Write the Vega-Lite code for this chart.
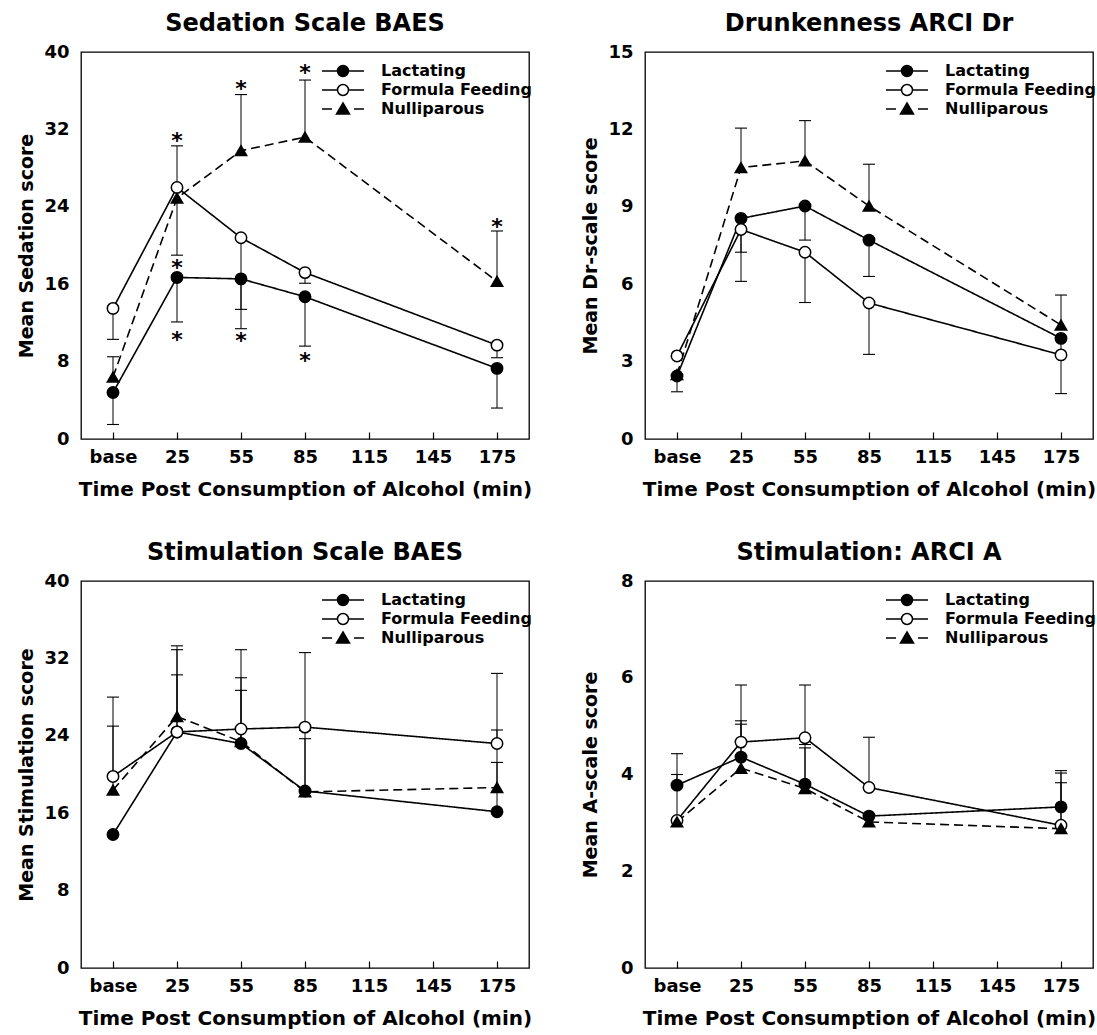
{
  "$schema": "https://vega.github.io/schema/vega-lite/v6.json",
  "padding": {"left": 16, "top": 11, "right": 5, "bottom": 5},
  "background": "white",
  "config": {
    "font": "DejaVu Sans",
    "view": {"stroke": "black", "strokeWidth": 1.3},
    "axis": {"labelFont": "DejaVu Sans", "labelFontWeight": "bold", "labelFontSize": 18, "labelColor": "black", "titleFont": "DejaVu Sans", "titleFontWeight": "bold", "titleColor": "black", "domain": false, "grid": false, "tickColor": "black"},
    "axisX": {"tickSize": -7, "tickWidth": 1.2, "labelPadding": 16, "titleFontSize": 20, "titlePadding": 13, "labelFlush": false},
    "axisY": {"ticks": false, "tickSize": 0, "labelPadding": 12, "titleFontSize": 19, "titlePadding": 8, "minExtent": 37, "maxExtent": 37},
    "title": {"font": "DejaVu Sans", "fontSize": 24, "fontWeight": "bold", "color": "black", "offset": 7, "anchor": "middle", "frame": "group"},
    "legend": {"orient": "none", "legendX": 254, "legendY": 11, "padding": 0, "symbolSize": 100, "labelOffset": 30, "labelFont": "DejaVu Sans", "labelFontWeight": "bold", "labelFontSize": 16, "labelColor": "black", "labelLimit": 300, "rowPadding": 1, "symbolStrokeWidth": 1.5, "symbolOpacity": 1}
  },
  "datasets": {
    "pts": [
      {"p": "sed", "g": "Lactating", "t": -5, "y": 4.8, "e": 1.5},
      {"p": "sed", "g": "Lactating", "t": 25, "y": 16.7, "e": 12.1},
      {"p": "sed", "g": "Lactating", "t": 55, "y": 16.55, "e": 11.4},
      {"p": "sed", "g": "Lactating", "t": 85, "y": 14.7, "e": 9.6},
      {"p": "sed", "g": "Lactating", "t": 175, "y": 7.3, "e": 3.2},
      {"p": "sed", "g": "Formula Feeding", "t": -5, "y": 13.5, "e": 10.3},
      {"p": "sed", "g": "Formula Feeding", "t": 25, "y": 26.0, "e": 19.0},
      {"p": "sed", "g": "Formula Feeding", "t": 55, "y": 20.8, "e": 13.4},
      {"p": "sed", "g": "Formula Feeding", "t": 85, "y": 17.2, "e": 16.1},
      {"p": "sed", "g": "Formula Feeding", "t": 175, "y": 9.7, "e": 8.4},
      {"p": "sed", "g": "Nulliparous", "t": -5, "y": 6.4, "e": 8.5},
      {"p": "sed", "g": "Nulliparous", "t": 25, "y": 24.9, "e": 30.3},
      {"p": "sed", "g": "Nulliparous", "t": 55, "y": 29.8, "e": 35.6},
      {"p": "sed", "g": "Nulliparous", "t": 85, "y": 31.2, "e": 37.1},
      {"p": "sed", "g": "Nulliparous", "t": 175, "y": 16.3, "e": 21.5},

      {"p": "dr", "g": "Lactating", "t": -5, "y": 2.44, "e": 1.83},
      {"p": "dr", "g": "Lactating", "t": 25, "y": 8.55, "e": 7.24},
      {"p": "dr", "g": "Lactating", "t": 55, "y": 9.03, "e": 7.71},
      {"p": "dr", "g": "Lactating", "t": 85, "y": 7.71, "e": 6.3},
      {"p": "dr", "g": "Lactating", "t": 175, "y": 3.9, "e": 3.3},
      {"p": "dr", "g": "Formula Feeding", "t": -5, "y": 3.22, "e": null},
      {"p": "dr", "g": "Formula Feeding", "t": 25, "y": 8.12, "e": 6.11},
      {"p": "dr", "g": "Formula Feeding", "t": 55, "y": 7.24, "e": 5.29},
      {"p": "dr", "g": "Formula Feeding", "t": 85, "y": 5.27, "e": 3.28},
      {"p": "dr", "g": "Formula Feeding", "t": 175, "y": 3.26, "e": 1.76},
      {"p": "dr", "g": "Nulliparous", "t": -5, "y": 2.5, "e": null},
      {"p": "dr", "g": "Nulliparous", "t": 25, "y": 10.52, "e": 12.05},
      {"p": "dr", "g": "Nulliparous", "t": 55, "y": 10.78, "e": 12.34},
      {"p": "dr", "g": "Nulliparous", "t": 85, "y": 9.03, "e": 10.65},
      {"p": "dr", "g": "Nulliparous", "t": 175, "y": 4.42, "e": 5.58},

      {"p": "stim", "g": "Lactating", "t": -5, "y": 13.8, "e": null},
      {"p": "stim", "g": "Lactating", "t": 25, "y": 24.4, "e": 30.3},
      {"p": "stim", "g": "Lactating", "t": 55, "y": 23.2, "e": 30.0},
      {"p": "stim", "g": "Lactating", "t": 85, "y": 18.3, "e": 24.55},
      {"p": "stim", "g": "Lactating", "t": 175, "y": 16.15, "e": 24.6},
      {"p": "stim", "g": "Formula Feeding", "t": -5, "y": 19.8, "e": 28.0},
      {"p": "stim", "g": "Formula Feeding", "t": 25, "y": 24.4, "e": 33.3},
      {"p": "stim", "g": "Formula Feeding", "t": 55, "y": 24.7, "e": 32.9},
      {"p": "stim", "g": "Formula Feeding", "t": 85, "y": 24.9, "e": 32.6},
      {"p": "stim", "g": "Formula Feeding", "t": 175, "y": 23.2, "e": 30.45},
      {"p": "stim", "g": "Nulliparous", "t": -5, "y": 18.4, "e": 25.0},
      {"p": "stim", "g": "Nulliparous", "t": 25, "y": 26.0, "e": 32.9},
      {"p": "stim", "g": "Nulliparous", "t": 55, "y": 23.4, "e": 28.7},
      {"p": "stim", "g": "Nulliparous", "t": 85, "y": 18.2, "e": 23.7},
      {"p": "stim", "g": "Nulliparous", "t": 175, "y": 18.65, "e": 21.25},

      {"p": "a", "g": "Lactating", "t": -5, "y": 3.78, "e": 4.43},
      {"p": "a", "g": "Lactating", "t": 25, "y": 4.36, "e": 5.11},
      {"p": "a", "g": "Lactating", "t": 55, "y": 3.8, "e": 4.62},
      {"p": "a", "g": "Lactating", "t": 85, "y": 3.14, "e": null},
      {"p": "a", "g": "Lactating", "t": 175, "y": 3.33, "e": 4.08},
      {"p": "a", "g": "Formula Feeding", "t": -5, "y": 3.05, "e": 4.0},
      {"p": "a", "g": "Formula Feeding", "t": 25, "y": 4.67, "e": 5.85},
      {"p": "a", "g": "Formula Feeding", "t": 55, "y": 4.76, "e": 5.85},
      {"p": "a", "g": "Formula Feeding", "t": 85, "y": 3.73, "e": 4.77},
      {"p": "a", "g": "Formula Feeding", "t": 175, "y": 2.95, "e": 4.03},
      {"p": "a", "g": "Nulliparous", "t": -5, "y": 3.02, "e": null},
      {"p": "a", "g": "Nulliparous", "t": 25, "y": 4.13, "e": 5.04},
      {"p": "a", "g": "Nulliparous", "t": 55, "y": 3.71, "e": 4.55},
      {"p": "a", "g": "Nulliparous", "t": 85, "y": 3.02, "e": null},
      {"p": "a", "g": "Nulliparous", "t": 175, "y": 2.88, "e": 3.83}
    ],
    "stars": [
      {"t": 25, "y": 31.4},
      {"t": 25, "y": 18.3},
      {"t": 25, "y": 10.9},
      {"t": 55, "y": 36.8},
      {"t": 55, "y": 10.8},
      {"t": 85, "y": 38.5},
      {"t": 85, "y": 8.65},
      {"t": 175, "y": 22.5}
    ]
  },
  "vconcat": [
    {
      "hconcat": [
        {
          "width": 448, "height": 387,
          "title": "Sedation Scale BAES",
          "data": {"name": "pts"},
          "transform": [{"filter": "datum.p === 'sed'"}],
          "layer": [
            {"mark": {"type": "line", "stroke": "black", "strokeWidth": 1.6},
             "encoding": {
               "x": {"field": "t", "type": "quantitative", "scale": {"domain": [-20, 190], "nice": false, "zero": false}, "axis": {"values": [-5, 25, 55, 85, 115, 145, 175], "labelExpr": "datum.value == -5 ? 'base' : datum.label", "title": "Time Post Consumption of Alcohol (min)"}},
               "y": {"field": "y", "type": "quantitative", "scale": {"domain": [0, 40], "nice": false}, "axis": {"values": [0, 8, 16, 24, 32, 40], "title": "Mean Sedation score"}},
               "strokeDash": {"field": "g", "type": "nominal", "scale": {"domain": ["Lactating", "Formula Feeding", "Nulliparous"], "range": [[1, 0], [1, 0], [9, 5]]}, "legend": null}}},
            {"transform": [{"filter": "isValid(datum.e)"}],
             "mark": {"type": "rule", "stroke": "black", "strokeWidth": 1},
             "encoding": {"x": {"field": "t", "type": "quantitative"}, "y": {"field": "y", "type": "quantitative"}, "y2": {"field": "e"}}},
            {"transform": [{"filter": "isValid(datum.e)"}],
             "mark": {"type": "point", "shape": "M-1,0L1,0", "size": 144, "stroke": "black", "strokeWidth": 1.1, "filled": false, "opacity": 1},
             "encoding": {"x": {"field": "t", "type": "quantitative"}, "y": {"field": "e", "type": "quantitative"}}},
            {"mark": {"type": "point", "stroke": "black", "strokeWidth": 1.5, "size": 130, "opacity": 1},
             "encoding": {"x": {"field": "t", "type": "quantitative"}, "y": {"field": "y", "type": "quantitative"},
               "shape": {"field": "g", "type": "nominal", "scale": {"domain": ["Lactating", "Formula Feeding", "Nulliparous"], "range": ["circle", "circle", "triangle-up"]}, "legend": null},
               "fill": {"field": "g", "type": "nominal", "scale": {"domain": ["Lactating", "Formula Feeding", "Nulliparous"], "range": ["black", "white", "black"]}, "legend": null}}},
            {"data": {"name": "stars"},
             "mark": {"type": "text", "text": "*", "font": "DejaVu Sans", "fontWeight": "bold", "fontSize": 22, "baseline": "alphabetic", "dy": 13, "color": "black"},
             "encoding": {"x": {"field": "t", "type": "quantitative"}, "y": {"field": "y", "type": "quantitative"}}},
            {"transform": [{"filter": "false"}],
             "mark": {"type": "point", "opacity": 1, "strokeWidth": 1.5},
             "encoding": {
               "shape": {"field": "g", "type": "nominal", "scale": {"domain": ["Lactating", "Formula Feeding", "Nulliparous"], "range": ["M-4.2,0H-1.1M1.1,0H4.2M1.1,0A1.1,1.1,0,1,1,-1.1,0A1.1,1.1,0,1,1,1.1,0Z", "M-4.2,0H-1.1M1.1,0H4.2M1.1,0A1.1,1.1,0,1,1,-1.1,0A1.1,1.1,0,1,1,1.1,0Z", "M-4.2,0H-2.2M2.2,0H4.2M0,-1.2L1.3,1L-1.3,1Z"]}, "legend": {"title": null}},
               "fill": {"field": "g", "type": "nominal", "scale": {"domain": ["Lactating", "Formula Feeding", "Nulliparous"], "range": ["black", "white", "black"]}, "legend": {"title": null}},
               "stroke": {"field": "g", "type": "nominal", "scale": {"domain": ["Lactating", "Formula Feeding", "Nulliparous"], "range": ["black", "black", "black"]}, "legend": {"title": null}}}}
          ],
          "resolve": {"scale": {"shape": "independent", "fill": "independent", "stroke": "independent"}, "legend": {"shape": "independent", "fill": "independent", "stroke": "independent"}}
        },
        {
          "width": 448, "height": 387,
          "title": "Drunkenness ARCI Dr",
          "data": {"name": "pts"},
          "transform": [{"filter": "datum.p === 'dr'"}],
          "layer": [
            {"mark": {"type": "line", "stroke": "black", "strokeWidth": 1.6},
             "encoding": {
               "x": {"field": "t", "type": "quantitative", "scale": {"domain": [-20, 190], "nice": false, "zero": false}, "axis": {"values": [-5, 25, 55, 85, 115, 145, 175], "labelExpr": "datum.value == -5 ? 'base' : datum.label", "title": "Time Post Consumption of Alcohol (min)"}},
               "y": {"field": "y", "type": "quantitative", "scale": {"domain": [0, 15], "nice": false}, "axis": {"values": [0, 3, 6, 9, 12, 15], "title": "Mean Dr-scale score"}},
               "strokeDash": {"field": "g", "type": "nominal", "scale": {"domain": ["Lactating", "Formula Feeding", "Nulliparous"], "range": [[1, 0], [1, 0], [9, 5]]}, "legend": null}}},
            {"transform": [{"filter": "isValid(datum.e)"}],
             "mark": {"type": "rule", "stroke": "black", "strokeWidth": 1},
             "encoding": {"x": {"field": "t", "type": "quantitative"}, "y": {"field": "y", "type": "quantitative"}, "y2": {"field": "e"}}},
            {"transform": [{"filter": "isValid(datum.e)"}],
             "mark": {"type": "point", "shape": "M-1,0L1,0", "size": 144, "stroke": "black", "strokeWidth": 1.1, "filled": false, "opacity": 1},
             "encoding": {"x": {"field": "t", "type": "quantitative"}, "y": {"field": "e", "type": "quantitative"}}},
            {"mark": {"type": "point", "stroke": "black", "strokeWidth": 1.5, "size": 130, "opacity": 1},
             "encoding": {"x": {"field": "t", "type": "quantitative"}, "y": {"field": "y", "type": "quantitative"},
               "shape": {"field": "g", "type": "nominal", "scale": {"domain": ["Lactating", "Formula Feeding", "Nulliparous"], "range": ["circle", "circle", "triangle-up"]}, "legend": null},
               "fill": {"field": "g", "type": "nominal", "scale": {"domain": ["Lactating", "Formula Feeding", "Nulliparous"], "range": ["black", "white", "black"]}, "legend": null}}},
            {"transform": [{"filter": "false"}],
             "mark": {"type": "point", "opacity": 1, "strokeWidth": 1.5},
             "encoding": {
               "shape": {"field": "g", "type": "nominal", "scale": {"domain": ["Lactating", "Formula Feeding", "Nulliparous"], "range": ["M-4.2,0H-1.1M1.1,0H4.2M1.1,0A1.1,1.1,0,1,1,-1.1,0A1.1,1.1,0,1,1,1.1,0Z", "M-4.2,0H-1.1M1.1,0H4.2M1.1,0A1.1,1.1,0,1,1,-1.1,0A1.1,1.1,0,1,1,1.1,0Z", "M-4.2,0H-2.2M2.2,0H4.2M0,-1.2L1.3,1L-1.3,1Z"]}, "legend": {"title": null}},
               "fill": {"field": "g", "type": "nominal", "scale": {"domain": ["Lactating", "Formula Feeding", "Nulliparous"], "range": ["black", "white", "black"]}, "legend": {"title": null}},
               "stroke": {"field": "g", "type": "nominal", "scale": {"domain": ["Lactating", "Formula Feeding", "Nulliparous"], "range": ["black", "black", "black"]}, "legend": {"title": null}}}}
          ],
          "resolve": {"scale": {"shape": "independent", "fill": "independent", "stroke": "independent"}, "legend": {"shape": "independent", "fill": "independent", "stroke": "independent"}}
        }
      ],
      "spacing": 47
    },
    {
      "hconcat": [
        {
          "width": 448, "height": 387,
          "title": "Stimulation Scale BAES",
          "data": {"name": "pts"},
          "transform": [{"filter": "datum.p === 'stim'"}],
          "layer": [
            {"mark": {"type": "line", "stroke": "black", "strokeWidth": 1.6},
             "encoding": {
               "x": {"field": "t", "type": "quantitative", "scale": {"domain": [-20, 190], "nice": false, "zero": false}, "axis": {"values": [-5, 25, 55, 85, 115, 145, 175], "labelExpr": "datum.value == -5 ? 'base' : datum.label", "title": "Time Post Consumption of Alcohol (min)"}},
               "y": {"field": "y", "type": "quantitative", "scale": {"domain": [0, 40], "nice": false}, "axis": {"values": [0, 8, 16, 24, 32, 40], "title": "Mean Stimulation score"}},
               "strokeDash": {"field": "g", "type": "nominal", "scale": {"domain": ["Lactating", "Formula Feeding", "Nulliparous"], "range": [[1, 0], [1, 0], [9, 5]]}, "legend": null}}},
            {"transform": [{"filter": "isValid(datum.e)"}],
             "mark": {"type": "rule", "stroke": "black", "strokeWidth": 1},
             "encoding": {"x": {"field": "t", "type": "quantitative"}, "y": {"field": "y", "type": "quantitative"}, "y2": {"field": "e"}}},
            {"transform": [{"filter": "isValid(datum.e)"}],
             "mark": {"type": "point", "shape": "M-1,0L1,0", "size": 144, "stroke": "black", "strokeWidth": 1.1, "filled": false, "opacity": 1},
             "encoding": {"x": {"field": "t", "type": "quantitative"}, "y": {"field": "e", "type": "quantitative"}}},
            {"mark": {"type": "point", "stroke": "black", "strokeWidth": 1.5, "size": 130, "opacity": 1},
             "encoding": {"x": {"field": "t", "type": "quantitative"}, "y": {"field": "y", "type": "quantitative"},
               "shape": {"field": "g", "type": "nominal", "scale": {"domain": ["Lactating", "Formula Feeding", "Nulliparous"], "range": ["circle", "circle", "triangle-up"]}, "legend": null},
               "fill": {"field": "g", "type": "nominal", "scale": {"domain": ["Lactating", "Formula Feeding", "Nulliparous"], "range": ["black", "white", "black"]}, "legend": null}}},
            {"transform": [{"filter": "false"}],
             "mark": {"type": "point", "opacity": 1, "strokeWidth": 1.5},
             "encoding": {
               "shape": {"field": "g", "type": "nominal", "scale": {"domain": ["Lactating", "Formula Feeding", "Nulliparous"], "range": ["M-4.2,0H-1.1M1.1,0H4.2M1.1,0A1.1,1.1,0,1,1,-1.1,0A1.1,1.1,0,1,1,1.1,0Z", "M-4.2,0H-1.1M1.1,0H4.2M1.1,0A1.1,1.1,0,1,1,-1.1,0A1.1,1.1,0,1,1,1.1,0Z", "M-4.2,0H-2.2M2.2,0H4.2M0,-1.2L1.3,1L-1.3,1Z"]}, "legend": {"title": null}},
               "fill": {"field": "g", "type": "nominal", "scale": {"domain": ["Lactating", "Formula Feeding", "Nulliparous"], "range": ["black", "white", "black"]}, "legend": {"title": null}},
               "stroke": {"field": "g", "type": "nominal", "scale": {"domain": ["Lactating", "Formula Feeding", "Nulliparous"], "range": ["black", "black", "black"]}, "legend": {"title": null}}}}
          ],
          "resolve": {"scale": {"shape": "independent", "fill": "independent", "stroke": "independent"}, "legend": {"shape": "independent", "fill": "independent", "stroke": "independent"}}
        },
        {
          "width": 448, "height": 387,
          "title": "Stimulation: ARCI A",
          "data": {"name": "pts"},
          "transform": [{"filter": "datum.p === 'a'"}],
          "layer": [
            {"mark": {"type": "line", "stroke": "black", "strokeWidth": 1.6},
             "encoding": {
               "x": {"field": "t", "type": "quantitative", "scale": {"domain": [-20, 190], "nice": false, "zero": false}, "axis": {"values": [-5, 25, 55, 85, 115, 145, 175], "labelExpr": "datum.value == -5 ? 'base' : datum.label", "title": "Time Post Consumption of Alcohol (min)"}},
               "y": {"field": "y", "type": "quantitative", "scale": {"domain": [0, 8], "nice": false}, "axis": {"values": [0, 2, 4, 6, 8], "title": "Mean A-scale score"}},
               "strokeDash": {"field": "g", "type": "nominal", "scale": {"domain": ["Lactating", "Formula Feeding", "Nulliparous"], "range": [[1, 0], [1, 0], [9, 5]]}, "legend": null}}},
            {"transform": [{"filter": "isValid(datum.e)"}],
             "mark": {"type": "rule", "stroke": "black", "strokeWidth": 1},
             "encoding": {"x": {"field": "t", "type": "quantitative"}, "y": {"field": "y", "type": "quantitative"}, "y2": {"field": "e"}}},
            {"transform": [{"filter": "isValid(datum.e)"}],
             "mark": {"type": "point", "shape": "M-1,0L1,0", "size": 144, "stroke": "black", "strokeWidth": 1.1, "filled": false, "opacity": 1},
             "encoding": {"x": {"field": "t", "type": "quantitative"}, "y": {"field": "e", "type": "quantitative"}}},
            {"mark": {"type": "point", "stroke": "black", "strokeWidth": 1.5, "size": 130, "opacity": 1},
             "encoding": {"x": {"field": "t", "type": "quantitative"}, "y": {"field": "y", "type": "quantitative"},
               "shape": {"field": "g", "type": "nominal", "scale": {"domain": ["Lactating", "Formula Feeding", "Nulliparous"], "range": ["circle", "circle", "triangle-up"]}, "legend": null},
               "fill": {"field": "g", "type": "nominal", "scale": {"domain": ["Lactating", "Formula Feeding", "Nulliparous"], "range": ["black", "white", "black"]}, "legend": null}}},
            {"transform": [{"filter": "false"}],
             "mark": {"type": "point", "opacity": 1, "strokeWidth": 1.5},
             "encoding": {
               "shape": {"field": "g", "type": "nominal", "scale": {"domain": ["Lactating", "Formula Feeding", "Nulliparous"], "range": ["M-4.2,0H-1.1M1.1,0H4.2M1.1,0A1.1,1.1,0,1,1,-1.1,0A1.1,1.1,0,1,1,1.1,0Z", "M-4.2,0H-1.1M1.1,0H4.2M1.1,0A1.1,1.1,0,1,1,-1.1,0A1.1,1.1,0,1,1,1.1,0Z", "M-4.2,0H-2.2M2.2,0H4.2M0,-1.2L1.3,1L-1.3,1Z"]}, "legend": {"title": null}},
               "fill": {"field": "g", "type": "nominal", "scale": {"domain": ["Lactating", "Formula Feeding", "Nulliparous"], "range": ["black", "white", "black"]}, "legend": {"title": null}},
               "stroke": {"field": "g", "type": "nominal", "scale": {"domain": ["Lactating", "Formula Feeding", "Nulliparous"], "range": ["black", "black", "black"]}, "legend": {"title": null}}}}
          ],
          "resolve": {"scale": {"shape": "independent", "fill": "independent", "stroke": "independent"}, "legend": {"shape": "independent", "fill": "independent", "stroke": "independent"}}
        }
      ],
      "spacing": 47
    }
  ],
  "spacing": 40
}
